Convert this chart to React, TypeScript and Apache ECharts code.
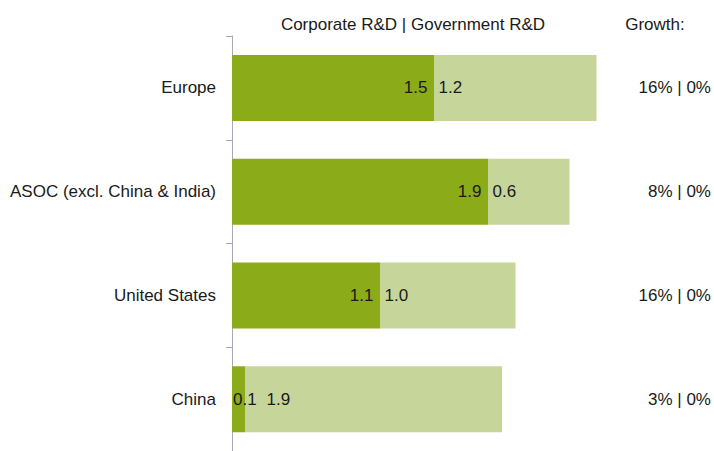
import React, { useEffect, useRef } from "react";
import * as echarts from "echarts";

const categories = ["Europe", "ASOC (excl. China & India)", "United States", "China"];
const corporateRD = [1.5, 1.9, 1.1, 0.1];
const governmentRD = [1.2, 0.6, 1.0, 1.9];
const growthLabels = ["16% | 0%", "8% | 0%", "16% | 0%", "3% | 0%"];
const headerLeft = "Corporate R&D | Government R&D";
const headerRight = "Growth:";

const FONT = "Liberation Sans, Arial, sans-serif";
const FS = 17;

export default function App() {
  const ref = useRef<HTMLDivElement>(null);
  useEffect(() => {
    if (!ref.current) return;
    const chart = echarts.init(ref.current, null, { renderer: "svg" });
    const cats = [...categories].reverse();
    const corp = [...corporateRD].reverse();
    const gov = [...governmentRD].reverse();
    const growth = [...growthLabels].reverse();
    chart.setOption({
      animation: false,
      backgroundColor: "#ffffff",
      textStyle: { fontFamily: FONT },
      grid: { left: 232, top: 36, width: 405, height: 419 },
      xAxis: {
        type: "value",
        min: 0,
        max: 3,
        show: false,
      },
      yAxis: [
        {
          type: "category",
          data: cats,
          axisLine: { show: true, lineStyle: { color: "#a9a9b3", width: 1 } },
          axisTick: { show: true, length: 6, lineStyle: { color: "#a9a9b3" } },
          axisLabel: { color: "#1a1a1a", fontSize: FS, margin: 16, fontFamily: FONT },
        },
        {
          type: "category",
          data: growth,
          position: "right",
          axisLine: { show: false },
          axisTick: { show: false },
          axisLabel: { color: "#1a1a1a", fontSize: FS, margin: 74, align: "right", fontFamily: FONT },
        },
      ],
      series: [
        {
          type: "bar",
          stack: "rd",
          barWidth: 66,
          itemStyle: { color: "#8cab18" },
          data: corp.map((v) => ({
            value: v,
            label: v < 0.3 ? { position: "insideLeft", distance: 1 } : undefined,
          })),
          label: {
            show: true,
            position: "insideRight",
            distance: 7,
            color: "#1a1a1a",
            fontSize: FS,
            fontFamily: FONT,
            formatter: (p: any) => Number(p.value).toFixed(1),
          },
        },
        {
          type: "bar",
          stack: "rd",
          barWidth: 66,
          itemStyle: { color: "#c6d69b" },
          data: gov.map((v, i) => ({
            value: v,
            label: corp[i] < 0.3 ? { distance: 21 } : undefined,
          })),
          label: {
            show: true,
            position: "insideLeft",
            distance: 4,
            color: "#1a1a1a",
            fontSize: FS,
            fontFamily: FONT,
            formatter: (p: any) => Number(p.value).toFixed(1),
          },
        },
      ],
      graphic: [
        {
          type: "text",
          x: 413,
          y: 24,
          style: {
            text: headerLeft,
            fill: "#1a1a1a",
            font: `${FS}px ${FONT}`,
            textAlign: "center",
            textVerticalAlign: "middle",
          },
        },
        {
          type: "text",
          x: 655,
          y: 24,
          style: {
            text: headerRight,
            fill: "#1a1a1a",
            font: `${FS}px ${FONT}`,
            textAlign: "center",
            textVerticalAlign: "middle",
          },
        },
      ],
    });
    return () => chart.dispose();
  }, []);
  return (
    <div
      ref={ref}
      style={{ position: "fixed", left: 0, top: 0, width: 714, height: 451 }}
    />
  );
}
